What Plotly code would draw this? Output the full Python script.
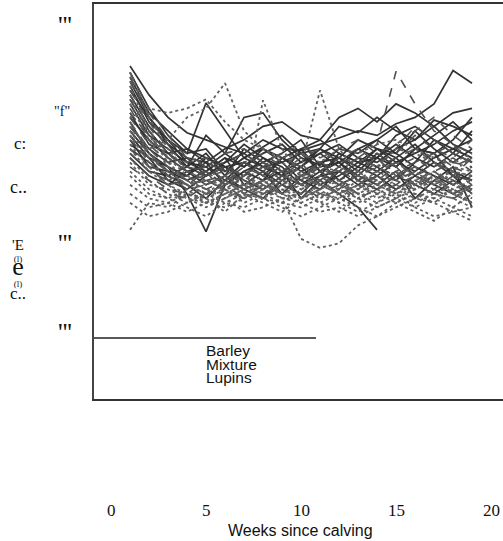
import plotly.graph_objects as go

weeks = list(range(1, 20))

barley = [
    [4.52,4.20,3.95,3.78,3.70,3.62,3.55,3.70,3.60,3.58,3.65,3.72,3.80,3.75,3.88,3.95,4.10,4.47,4.33],
    [4.30,3.90,3.70,3.55,4.11,3.80,3.50,3.62,3.75,3.55,3.60,3.85,3.78,3.95,3.80,3.70,3.92,3.85,3.75],
    [4.10,3.75,3.60,3.45,3.40,3.55,3.95,4.00,3.70,3.50,3.42,3.60,3.55,3.70,3.85,3.60,3.55,3.70,3.95],
    [3.95,3.70,3.50,3.35,3.20,3.30,3.15,3.25,3.35,3.05,3.25,3.10,2.95,2.70],
    [3.80,3.55,3.40,3.10,2.68,3.20,3.35,3.45,3.30,3.40,3.20,3.30,3.45,3.50,3.40,3.60,3.55,3.30,3.10],
    [3.60,3.45,3.30,3.40,3.55,3.30,3.60,3.45,3.55,3.70,3.40,3.45,3.60,3.50,3.75,3.85,3.70,3.60,3.50],
    [4.40,4.00,3.80,3.60,3.50,3.40,3.45,3.30,3.50,3.35,3.45,3.50,3.35,3.55,3.40,3.60,3.75,3.90,3.70],
    [3.50,3.30,3.20,3.35,3.40,3.25,3.15,3.05,3.25,3.40,3.60,3.45,3.30,3.20,3.35,3.05,3.25,3.40,2.95],
    [4.20,3.85,3.65,3.50,3.45,3.60,3.70,3.85,3.90,3.75,3.70,3.95,4.05,3.90,4.10,4.00,3.85,4.00,4.05],
    [3.70,3.40,3.35,3.25,3.35,3.50,3.20,3.35,3.10,3.30,3.45,3.25,3.40,3.60,3.55,3.40,3.30,3.20,3.35],
    [4.00,3.65,3.55,3.40,3.75,3.55,3.40,3.55,3.65,3.45,3.55,3.40,3.60,3.70,3.55,3.80,3.60,3.45,3.60],
    [3.85,3.60,3.45,3.50,3.30,3.45,3.55,3.40,3.45,3.25,3.15,3.35,3.50,3.40,3.25,3.45,3.70,3.55,3.80],
    [4.45,4.05,3.75,3.55,3.60,3.35,3.50,3.60,3.45,3.55,3.35,3.50,3.70,3.60,3.50,3.65,3.45,3.35,3.25],
    [3.65,3.50,3.40,3.30,3.50,3.40,3.30,3.50,3.40,3.20,3.30,3.55,3.45,3.35,3.50,3.30,3.20,3.10,3.20],
    [4.25,3.95,3.70,3.45,3.35,3.50,3.40,3.60,3.50,3.40,3.55,3.65,3.50,3.45,3.60,3.70,3.85,3.65,3.55],
    [3.90,3.55,3.35,3.30,3.45,3.20,3.35,3.25,3.50,3.60,3.35,3.20,3.30,3.50,3.65,3.50,3.40,3.55,3.45],
    [4.35,3.95,3.65,3.40,3.30,3.45,3.65,3.50,3.35,3.45,3.60,3.50,3.40,3.30,3.45,3.55,3.65,3.80,3.90],
    [3.75,3.50,3.25,3.15,3.30,3.40,3.25,3.15,3.30,3.20,3.35,3.45,3.25,3.15,3.30,3.20,3.10,3.25,3.15],
    [4.15,3.80,3.55,3.60,3.45,3.35,3.50,3.40,3.30,3.60,3.70,3.55,3.45,3.60,3.45,3.35,3.50,3.60,3.70],
    [3.55,3.35,3.30,3.20,3.05,3.25,3.45,3.35,3.20,3.10,3.30,3.35,3.20,3.30,3.15,3.30,3.45,3.30,3.25],
]

mixture = [
    [4.35,4.00,3.70,3.50,3.40,3.45,3.55,3.40,3.35,3.50,3.60,3.45,3.50,3.65,4.46,4.10,3.80,3.65,3.55],
    [4.15,3.80,3.55,3.40,3.35,3.20,3.30,3.45,3.30,3.25,3.40,3.30,3.45,3.55,3.40,3.50,3.35,3.45,3.40],
    [3.90,3.60,3.40,3.25,3.30,3.40,3.25,3.15,3.30,3.45,3.20,3.35,3.25,3.40,3.50,3.60,3.45,3.30,3.50],
    [3.70,3.50,3.35,3.30,3.15,3.25,3.40,3.30,3.20,3.10,3.25,3.40,3.30,3.20,3.35,3.45,3.25,3.35,3.20],
    [4.25,3.90,3.60,3.45,3.50,3.35,3.20,3.35,3.50,3.40,3.30,3.15,3.35,3.50,3.30,3.40,3.55,3.65,3.45],
    [3.55,3.35,3.25,3.20,3.35,3.10,3.20,3.35,3.25,3.30,3.45,3.25,3.10,3.25,3.40,3.20,3.30,3.15,3.05],
    [4.05,3.70,3.50,3.35,3.25,3.30,3.45,3.55,3.40,3.30,3.35,3.50,3.60,3.45,3.55,3.75,3.60,3.50,3.70],
    [3.80,3.55,3.30,3.15,3.20,3.30,3.10,3.25,3.40,3.20,3.15,3.30,3.40,3.30,3.20,3.35,3.50,3.40,3.30],
    [3.40,3.25,3.10,3.05,3.20,3.30,3.15,3.05,3.20,3.35,3.25,3.10,3.20,3.35,3.25,3.15,3.30,3.25,3.40],
    [4.40,3.95,3.65,3.55,3.40,3.55,3.60,3.45,3.55,3.65,3.50,3.60,3.70,3.55,3.65,3.80,3.95,3.75,3.60],
    [3.95,3.65,3.45,3.35,3.40,3.25,3.35,3.20,3.10,3.25,3.35,3.20,3.30,3.45,3.35,3.25,3.15,3.30,3.25],
    [3.60,3.40,3.20,3.25,3.10,3.20,3.05,3.15,3.30,3.20,3.05,3.15,3.25,3.10,3.20,3.30,3.15,3.05,3.15],
    [4.20,3.85,3.55,3.35,3.30,3.40,3.30,3.45,3.35,3.25,3.45,3.35,3.25,3.35,3.45,3.30,3.40,3.50,3.35],
    [3.85,3.55,3.35,3.20,3.25,3.15,3.30,3.40,3.25,3.15,3.30,3.25,3.35,3.25,3.15,3.25,3.35,3.20,3.30],
    [4.45,4.05,3.75,3.50,3.45,3.35,3.45,3.30,3.40,3.55,3.45,3.35,3.50,3.40,3.30,3.45,3.55,3.40,3.50],
    [3.50,3.30,3.15,3.10,3.25,3.15,3.05,3.20,3.15,3.25,3.10,3.20,3.05,3.15,3.30,3.20,3.10,3.20,3.10],
    [4.00,3.75,3.50,3.40,3.30,3.35,3.25,3.40,3.55,3.35,3.25,3.40,3.30,3.40,3.60,3.85,3.70,3.55,3.45],
    [3.75,3.45,3.25,3.30,3.35,3.20,3.25,3.10,3.20,3.30,3.40,3.25,3.15,3.30,3.25,3.35,3.20,3.30,3.25],
]

lupins = [
    [3.85,3.60,3.70,3.95,4.05,4.33,3.80,3.60,3.45,3.30,3.40,3.35,3.50,3.40,3.60,3.55,3.45,3.35,3.50],
    [2.70,3.00,2.95,3.10,3.05,2.90,3.10,3.20,3.05,2.60,2.50,2.55,2.75,2.85,2.95,3.05,3.00,2.90,2.80],
    [3.60,3.35,3.20,3.05,3.00,3.10,3.05,4.14,3.60,3.30,3.20,3.10,3.25,3.15,3.05,3.20,3.30,3.10,3.00],
    [3.50,3.25,3.10,3.00,3.10,3.15,3.00,3.10,3.25,3.40,4.25,3.60,3.35,3.20,3.10,3.25,3.35,3.20,3.15],
    [4.10,3.70,3.40,3.25,3.15,3.05,3.15,3.25,3.10,3.05,3.15,3.25,3.10,3.00,3.15,3.25,3.10,3.05,3.20],
    [3.30,3.10,3.05,2.95,2.85,3.00,3.10,3.00,2.90,3.05,3.15,3.00,2.90,3.00,3.10,2.95,3.05,3.15,3.00],
    [3.75,3.45,3.30,3.20,3.10,3.20,3.30,3.15,3.25,3.15,3.05,3.20,3.30,3.25,3.35,3.15,3.25,3.35,3.30],
    [3.00,2.85,2.90,3.00,3.10,3.00,2.95,3.05,2.95,2.85,2.95,3.05,2.95,2.85,3.00,2.90,2.80,2.95,2.85],
    [4.30,3.80,3.50,3.30,3.20,3.30,3.20,3.10,3.20,3.30,3.20,3.10,3.20,3.35,3.45,3.30,3.20,3.40,3.35],
    [3.20,3.05,3.00,3.10,3.00,3.10,3.20,3.10,3.00,2.95,3.05,3.15,3.05,2.95,3.05,3.15,3.25,3.10,3.00],
    [3.90,3.55,3.35,3.20,3.25,3.15,3.05,3.20,3.35,3.20,3.10,3.00,3.15,3.25,3.10,3.20,3.35,3.25,3.10],
    [3.45,3.20,3.15,3.05,2.95,3.05,3.15,3.25,3.10,3.00,3.10,3.05,3.20,3.10,3.00,3.10,3.05,2.95,3.10],
    [3.95,4.05,4.00,4.05,4.15,3.90,3.70,3.60,3.50,3.55,3.45,3.60,3.55,3.65,3.70,3.60,3.50,3.45,3.55],
    [3.65,3.40,3.20,3.10,3.05,3.15,3.20,3.05,3.15,3.10,3.00,3.10,3.20,3.05,3.15,3.05,3.15,3.25,3.15],
    [4.20,3.75,3.45,3.25,3.15,3.10,3.20,3.30,3.15,3.05,3.20,3.15,3.05,3.15,3.25,3.35,3.20,3.10,3.20],
    [3.35,3.15,3.05,3.15,3.00,2.95,3.05,3.15,3.05,3.10,3.00,2.90,3.05,3.20,3.10,3.00,3.10,3.05,2.95],
    [3.80,3.50,3.35,3.20,3.10,3.25,3.10,3.05,3.00,3.15,3.25,3.10,3.00,3.10,3.20,3.10,3.00,3.15,3.05],
    [3.10,2.95,3.00,2.90,3.00,3.05,2.90,2.95,3.05,3.00,2.90,2.95,2.85,2.95,3.05,2.95,2.85,2.90,2.95],
    [4.45,3.95,3.60,3.35,3.25,3.20,3.30,3.20,3.10,3.20,3.30,3.20,3.10,3.20,3.30,3.40,3.25,3.15,3.25],
]

diet_names = ["Barley", "Mixture", "Lupins"]
x_ticks = [0, 5, 10, 15, 20]
x_title = "Weeks since calving"
y_tick_texts = ["'''", '"f"', "'''", "'''"]

fig = go.Figure()

styles = [
    (barley, "solid", "#333333", 1.7),
    (mixture, "dash", "#505050", 1.6),
    (lupins, "dot", "#606060", 1.8),
]
for series, dash, color, width in styles:
    for vals in series:
        fig.add_trace(go.Scatter(
            x=weeks[:len(vals)], y=vals, mode="lines",
            line=dict(color=color, width=width, dash=dash),
            showlegend=False, hoverinfo="skip",
        ))

W, H = 503, 541
L, T, B = 94, 4, 142

fig.update_layout(
    width=W, height=H,
    margin=dict(l=L, r=0, t=T, b=B, pad=0),
    paper_bgcolor="white", plot_bgcolor="white",
    showlegend=False,
    xaxis=dict(range=[-0.895, 20.63], showgrid=False, zeroline=False,
               showline=True, mirror=True, linecolor="#333", linewidth=1.5,
               showticklabels=False, ticks=""),
    yaxis=dict(range=[0.82, 5.21], showgrid=False, zeroline=False,
               showline=True, linecolor="#444", linewidth=1.5,
               showticklabels=False, ticks=""),
)


def py(pix):
    return (H - B - pix) / (H - T - B)


def px(pix):
    return (pix - L) / (W - L)


# legend separator line
fig.add_shape(type="line", xref="paper", yref="paper",
              x0=0, x1=px(316), y0=py(338), y1=py(338),
              line=dict(color="#222", width=1.3))

# legend text (single block, tight line spacing)
legend_html = "<br>".join('<span style="font-size:15.5px">%s</span>' % n for n in diet_names)
fig.add_annotation(text=legend_html, xref="paper", yref="paper",
                   x=px(204), y=py(364), xanchor="left", yanchor="middle",
                   align="left", showarrow=False,
                   font=dict(family="Liberation Sans, Arial", size=10.4, color="#111"))

# x tick labels
for t in x_ticks:
    fig.add_annotation(text=str(t), xref="x", yref="paper", x=t, y=py(510),
                       xanchor="center", yanchor="middle", showarrow=False,
                       font=dict(family="Liberation Serif, Times New Roman", size=17, color="#111"))

fig.add_annotation(text=x_title, xref="paper", yref="paper", x=px(300), y=py(530),
                   xanchor="center", yanchor="middle", showarrow=False,
                   font=dict(family="Liberation Sans, Arial", size=16, color="#111"))

# y "tick" texts
for txt, ypix, xpix, sz in zip(y_tick_texts, [21, 111, 238, 327], [65, 62, 65, 65], [26, 14, 26, 26]):
    fig.add_annotation(text=txt,
                       xref="paper", yref="paper", x=px(xpix), y=py(ypix + (5 if sz > 20 else 0)),
                       xanchor="center", yanchor="middle", showarrow=False,
                       font=dict(family="Liberation Serif, Times New Roman", size=sz, color="#111"))

# garbled y title fragments
fig.add_annotation(text="c:", xref="paper", yref="paper", x=px(20), y=py(143),
                   xanchor="center", yanchor="middle", showarrow=False,
                   font=dict(family="Liberation Serif, Times New Roman", size=17, color="#111"))
fig.add_annotation(text="c..", xref="paper", yref="paper", x=px(18), y=py(187),
                   xanchor="center", yanchor="middle", showarrow=False,
                   font=dict(family="Liberation Serif, Times New Roman", size=18, color="#111"))
stack = "<br>".join([
    '<span style="font-size:15px">\'E</span>',
    '<span style="font-size:9px">(l)</span>',
    '<span style="font-size:26px">e</span>',
    '<span style="font-size:9px">(l)</span>',
    '<span style="font-size:17px">c..</span>',
])
fig.add_annotation(text=stack, xref="paper", yref="paper", x=px(18), y=py(270),
                   xanchor="center", yanchor="middle", align="center", showarrow=False,
                   font=dict(family="Liberation Serif, Times New Roman", size=9.5, color="#111"))

fig.write_html("out.html")
